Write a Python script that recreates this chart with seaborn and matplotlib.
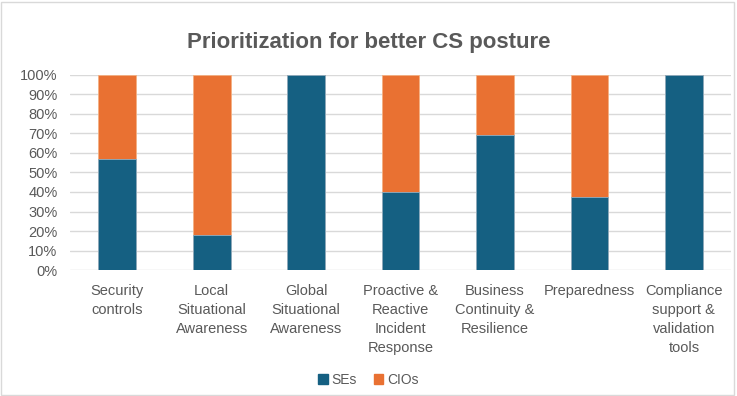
import matplotlib
matplotlib.use("Agg")
import matplotlib.pyplot as plt
import seaborn as sns
import pandas as pd
from matplotlib.patches import Patch, Rectangle

categories = [
    "Security\ncontrols",
    "Local\nSituational\nAwareness",
    "Global\nSituational\nAwareness",
    "Proactive &\nReactive\nIncident\nResponse",
    "Business\nContinuity &\nResilience",
    "Preparedness",
    "Compliance\nsupport &\nvalidation\ntools",
]
ses = [57, 18, 100, 40, 69, 37.5, 100]
cios = [43, 82, 0, 60, 31, 62.5, 0]

BLUE = "#156082"
ORANGE = "#E97132"
GRID = "#D9D9D9"
TXT = "#595959"

df = pd.DataFrame({"category": categories, "SEs": ses, "CIOs": cios})
df["total"] = df["SEs"] + df["CIOs"]

sns.set_theme(style="white")
plt.rcParams["font.family"] = ["Liberation Sans", "DejaVu Sans"]

fig = plt.figure(figsize=(7.37, 3.96), dpi=100)
ax = fig.add_axes([0.095, 0.318, 0.897, 0.493])

# stacked: draw total in orange, SEs on top in blue
sns.barplot(data=df, x="category", y="total", color=ORANGE, width=0.4,
            saturation=1, edgecolor="#F4B183", linewidth=0.6, ax=ax)
sns.barplot(data=df, x="category", y="SEs", color=BLUE, width=0.4,
            saturation=1, edgecolor="#8FAFC4", linewidth=0.6, ax=ax)

ax.set_ylim(0, 100)
ax.set_yticks(range(0, 101, 10))
ax.set_yticklabels([f"{v}%" for v in range(0, 101, 10)], color=TXT, fontsize=10.5)
ax.set_xlim(-0.5, len(categories) - 0.5)
ax.tick_params(axis="x", colors=TXT, labelsize=10.5, length=0, pad=10)
ax.tick_params(axis="y", length=0, pad=9)
for lbl in ax.get_xticklabels():
    lbl.set_verticalalignment("top")
    lbl.set_linespacing(1.45)
ax.set_xlabel("")
ax.set_ylabel("")
ax.yaxis.grid(True, color=GRID, linewidth=1)
ax.set_axisbelow(True)
for s in ax.spines.values():
    s.set_visible(False)

fig.text(0.5, 0.893, "Prioritization for better CS posture", ha="center",
         va="center", fontsize=16, fontweight="bold", color=TXT)

handles = [Patch(color=BLUE, label="SEs"), Patch(color=ORANGE, label="CIOs")]
fig.legend(handles=handles, loc="center", bbox_to_anchor=(0.5, 0.04), ncol=2,
           frameon=False, fontsize=10, handlelength=0.7, handleheight=0.7,
           handletextpad=0.3, columnspacing=1.2, labelcolor=TXT)

fig.patches.append(Rectangle((0.002, 0.003), 0.994, 0.992, transform=fig.transFigure,
                             fill=False, edgecolor="#D9D9D9", linewidth=1))

fig.savefig("out.png", dpi=100)
